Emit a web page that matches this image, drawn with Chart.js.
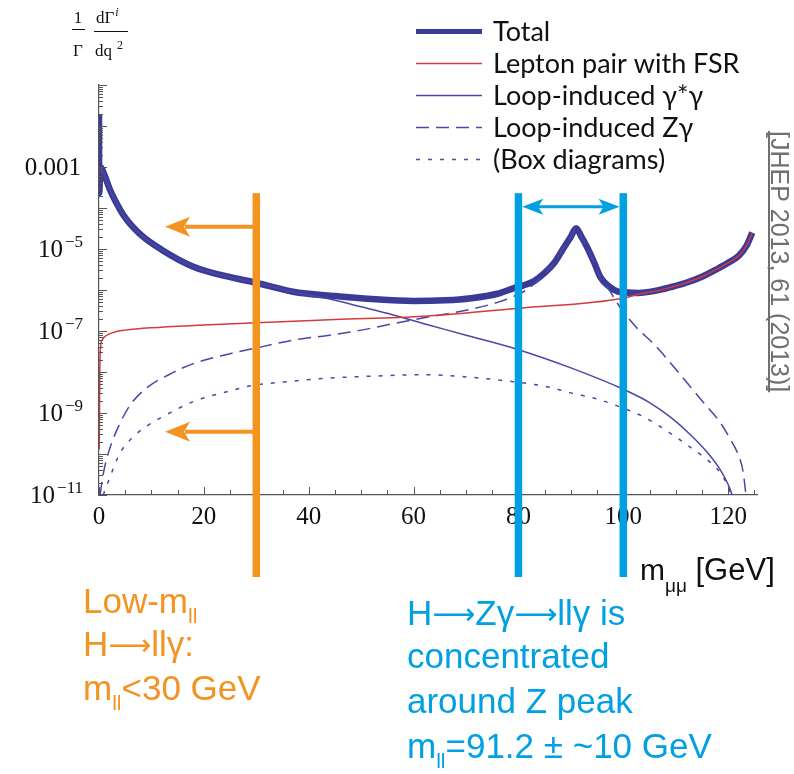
<!DOCTYPE html>
<html>
<head>
<meta charset="utf-8">
<title>dGamma/dq2 for H -> l l gamma</title>
<script src="https://cdn.jsdelivr.net/npm/chart.js"></script>
<style>
  body { margin: 0; background: #fff; }
  #box { width: 794px; height: 774px; }
</style>
</head>
<body>
<div id="box"><canvas id="myChart" width="794" height="774"></canvas></div>
<script>
// values: x = m_ll in GeV, y = 1/Gamma dGamma/dq^2 (log axis)
var totalX = [0, 0.03, 0.3, 1, 2, 3, 5, 8, 12, 18, 24, 30, 37, 45, 52, 60, 66, 71, 76, 79, 81, 83, 85, 87, 88.5, 90, 91, 92, 93.1, 94.5, 95.6, 97, 99.4, 103, 106, 109, 112, 115, 118, 120, 122, 123.5, 124.6];
var totalY = [1.9e-2, 2.3e-4, 1.0e-3, 6.6e-4, 3.0e-4, 1.6e-4, 5.8e-5, 2.2e-5, 9.5e-6, 3.7e-6, 2.2e-6, 1.5e-6, 9.1e-7, 7.1e-7, 6.0e-7, 5.4e-7, 5.6e-7, 6.3e-7, 8.1e-7, 1.1e-6, 1.3e-6, 1.65e-6, 2.6e-6, 4.9e-6, 1.0e-5, 2.0e-5, 3.2e-5, 2.0e-5, 1.1e-5, 4.5e-6, 2.1e-6, 1.3e-6, 8.9e-7, 8.5e-7, 9.5e-7, 1.17e-6, 1.5e-6, 2.1e-6, 3.3e-6, 4.6e-6, 6.8e-6, 1.2e-5, 2.5e-5];

var fsrX = [0.05, 0.15, 0.3, 0.6, 1, 2, 3, 5, 10, 20, 30, 45, 62, 80, 100, 103, 106, 109, 112, 115, 118, 120, 122, 123.5, 124.6];
var fsrY = [1.3e-10, 1.0e-8, 4.0e-8, 6.0e-8, 7.1e-8, 8.5e-8, 9.5e-8, 1.05e-7, 1.2e-7, 1.4e-7, 1.6e-7, 1.9e-7, 2.3e-7, 3.6e-7, 6.3e-7, 8.0e-7, 9.3e-7, 1.15e-6, 1.5e-6, 2.1e-6, 3.3e-6, 4.6e-6, 6.8e-6, 1.2e-5, 2.5e-5];

var ggX = [0.3, 1, 2, 3, 5, 8, 12, 18, 24, 30, 37, 44, 50, 56, 62, 70, 80, 90, 100, 105, 109, 113, 116, 118.5, 120, 120.8];
var ggY = [1.0e-3, 6.6e-4, 3.0e-4, 1.6e-4, 5.8e-5, 2.2e-5, 9.5e-6, 3.7e-6, 2.2e-6, 1.5e-6, 9.0e-7, 6.0e-7, 3.9e-7, 2.5e-7, 1.5e-7, 7.9e-8, 3.5e-8, 1.26e-8, 3.8e-9, 1.8e-9, 7.9e-10, 2.8e-10, 1.1e-10, 4.1e-11, 1.8e-11, 1.0e-11];

var zgX = [0.2, 0.8, 1.5, 2.5, 4, 6, 9, 14, 18, 25, 31, 37, 44, 50, 56, 62, 70, 76, 80, 82, 85, 87, 88.5, 90, 91, 92, 93.1, 94.5, 95.6, 97, 99, 100.8, 103, 105.7, 109, 112.2, 115, 118.5, 120.5, 121.8, 122.8, 123.4];
var zgY = [1.0e-11, 3.2e-11, 7.9e-11, 2.0e-10, 5.6e-10, 1.6e-9, 4.0e-9, 9.5e-9, 1.6e-8, 2.8e-8, 4.1e-8, 6.0e-8, 7.9e-8, 1.05e-7, 1.5e-7, 2.1e-7, 3.2e-7, 5.0e-7, 7.9e-7, 1.1e-6, 2.5e-6, 4.9e-6, 1.0e-5, 2.0e-5, 3.2e-5, 2.0e-5, 1.1e-5, 4.5e-6, 2.0e-6, 1.15e-6, 4.5e-7, 2.2e-7, 1.05e-7, 5.0e-8, 1.66e-8, 5.4e-9, 2.0e-9, 5.8e-10, 2.2e-10, 1.05e-10, 4.0e-11, 1.0e-11];

var boxX = [0.8, 2.1, 4, 6.5, 9, 12, 18, 24, 29, 37, 44, 53, 62, 70, 79, 85, 90, 95, 99.4, 104, 109, 113, 115.3, 118.5, 120, 120.6];
var boxY = [1.0e-11, 2.75e-11, 1.05e-10, 2.6e-10, 4.7e-10, 7.9e-10, 1.9e-9, 3.2e-9, 4.6e-9, 6.0e-9, 7.1e-9, 8.0e-9, 8.6e-9, 7.6e-9, 5.8e-9, 4.5e-9, 3.1e-9, 2.2e-9, 1.4e-9, 7.9e-10, 3.2e-10, 1.4e-10, 8.5e-11, 3.5e-11, 1.6e-11, 1.0e-11];

var seriesLabels = ['Total', 'Lepton pair with FSR', 'Loop-induced \u03b3*\u03b3', 'Loop-induced Z\u03b3', '(Box diagrams)'];

// tick labels
var xTicks = [0, 20, 40, 60, 80, 100, 120];
var yLabelValues = [1e-3, 1e-5, 1e-7, 1e-9, 1e-11];
var yLabelBase = ['0.001', '10', '10', '10', '10'];
var yLabelExp = ['', '\u22125', '\u22127', '\u22129', '\u221211'];

// annotation bars and arrows (data coordinates)
var zoneX = [30, 80, 100];
var zoneTop = 2.3e-4;
var zoneBottom = 1e-13;
var lowArrowY = [3.5e-5, 3.5e-10];
var lowArrowTip = 12.6;
var zArrowY = 1.07e-4;

var orange = '#f39322';
var cyan = '#00a0e2';
var thin = '#4848a6';
var SANS = '"Liberation Sans"';
var ARROW = '"DejaVu Sans"';

function pts(xs, ys) {
   return xs.map(function (x, i) { return { x: x, y: ys[i] }; });
}

// parts: [text, size, dy, family]
function richText(ctx, parts, x, y) {
   parts.forEach(function (p) {
      ctx.font = p[1] + 'px ' + (p[3] || SANS);
      ctx.fillText(p[0], x, y + (p[2] || 0));
      x += ctx.measureText(p[0]).width;
   });
}

function arrowHead(ctx, tx, ty, dir, len, half, notch) {
   ctx.beginPath();
   ctx.moveTo(tx, ty);
   ctx.lineTo(tx - dir * len, ty - half);
   ctx.lineTo(tx - dir * (len - notch), ty);
   ctx.lineTo(tx - dir * len, ty + half);
   ctx.closePath();
   ctx.fill();
}

var decor = {
   id: 'decor',
   afterDraw: function (chart) {
      var ctx = chart.ctx;
      var xs = chart.scales.x, ys = chart.scales.y, a = chart.chartArea;
      ctx.save();

      // inward tick marks
      ctx.strokeStyle = '#555';
      ctx.lineWidth = 1;
      ctx.beginPath();
      for (var e = -11; e <= -1; e++) {
         for (var m = 1; m <= 9; m++) {
            if (e === -1 && m > 1) break;
            var py = Math.round(ys.getPixelForValue(m * Math.pow(10, e))) + 0.5;
            ctx.moveTo(a.left, py);
            ctx.lineTo(a.left + (m === 1 ? 8 : 4), py);
         }
      }
      xs.ticks.forEach(function (t) {
         var px = Math.round(xs.getPixelForValue(t.value)) + 0.5;
         ctx.moveTo(px, a.bottom);
         ctx.lineTo(px, a.bottom - (xTicks.indexOf(t.value) >= 0 ? 8 : 5));
      });
      ctx.stroke();

      // y tick labels
      ctx.fillStyle = '#111';
      ctx.textAlign = 'right';
      ctx.textBaseline = 'alphabetic';
      yLabelValues.forEach(function (v, i) {
         var py = ys.getPixelForValue(v);
         if (yLabelExp[i] === '') {
            ctx.font = '25px "Liberation Serif"';
            ctx.fillText(yLabelBase[i], 81, py + 8);
         } else {
            ctx.font = '17px "Liberation Serif"';
            var ew = ctx.measureText(yLabelExp[i]).width;
            ctx.fillText(yLabelExp[i], 83, py - 2);
            ctx.font = '25px "Liberation Serif"';
            ctx.fillText(yLabelBase[i], 83 - ew - 2, py + 8);
         }
      });

      // y axis title  1/Γ dΓ^i/dq^2
      ctx.textAlign = 'center';
      ctx.font = '17px "Liberation Serif"';
      ctx.fillText('1', 78, 23);
      ctx.fillText('\u0393', 78, 56);
      ctx.fillRect(72, 29, 13, 1);
      ctx.textAlign = 'left';
      ctx.fillText('d\u0393', 96, 23);
      var w1 = ctx.measureText('d\u0393').width;
      ctx.fillText('dq', 95, 56);
      var w2 = ctx.measureText('dq').width;
      ctx.font = 'italic 12px "Liberation Serif"';
      ctx.fillText('i', 96 + w1 + 1, 16);
      ctx.font = '12px "Liberation Serif"';
      ctx.fillText('2', 95 + w2 + 5, 49);
      ctx.fillRect(94, 31, 34, 1);

      // legend
      ctx.textBaseline = 'middle';
      chart.data.datasets.forEach(function (ds, i) {
         var y = 31.5 + i * 32;
         ctx.strokeStyle = ds.borderColor;
         ctx.lineWidth = i === 0 ? 5 : ds.borderWidth;
         ctx.setLineDash(ds.borderDash || []);
         ctx.beginPath();
         ctx.moveTo(416, y);
         ctx.lineTo(482, y);
         ctx.stroke();
         ctx.setLineDash([]);
         ctx.fillStyle = '#111';
         ctx.font = '27px Lato';
         ctx.fillText(ds.label, 493, y + 1);
      });
      ctx.textBaseline = 'alphabetic';

      // mass window bars
      var top = ys.getPixelForValue(zoneTop), bot = ys.getPixelForValue(zoneBottom);
      zoneX.forEach(function (v, i) {
         ctx.fillStyle = i === 0 ? orange : cyan;
         ctx.fillRect(xs.getPixelForValue(v) - 3.75, top, 7.5, bot - top);
      });

      // arrows
      var ox = xs.getPixelForValue(zoneX[0]);
      var tip = xs.getPixelForValue(lowArrowTip);
      ctx.fillStyle = orange;
      ctx.strokeStyle = orange;
      ctx.lineWidth = 4;
      lowArrowY.forEach(function (v) {
         var py = ys.getPixelForValue(v);
         ctx.beginPath();
         ctx.moveTo(ox, py);
         ctx.lineTo(tip + 20, py);
         ctx.stroke();
         arrowHead(ctx, tip, py, -1, 25, 10, 6);
      });
      var zl = xs.getPixelForValue(zoneX[1]) + 3.75, zr = xs.getPixelForValue(zoneX[2]) - 3.75;
      var zy = ys.getPixelForValue(zArrowY);
      ctx.fillStyle = cyan;
      ctx.strokeStyle = cyan;
      ctx.lineWidth = 3;
      ctx.beginPath();
      ctx.moveTo(zl + 15, zy);
      ctx.lineTo(zr - 15, zy);
      ctx.stroke();
      arrowHead(ctx, zl, zy, -1, 21, 8, 5);
      arrowHead(ctx, zr, zy, 1, 21, 8, 5);

      // axis title
      ctx.fillStyle = '#111';
      richText(ctx, [['m', 30], ['\u03bc\u03bc', 19, 12], [' [GeV]', 31]], 640, 580);

      // annotations
      var arr = ['\u27f6', 30, -1, ARROW];
      ctx.fillStyle = orange;
      richText(ctx, [['Low-m', 35], ['ll', 21, 10]], 83, 613);
      richText(ctx, [['H', 35], arr, ['ll\u03b3:', 35]], 83, 656);
      richText(ctx, [['m', 35], ['ll', 21, 10], ['<30 GeV', 35]], 83, 700);
      ctx.fillStyle = cyan;
      richText(ctx, [['H', 35], arr, ['Z\u03b3', 35], arr, ['ll\u03b3 is', 35]], 407, 625);
      richText(ctx, [['concentrated', 35]], 407, 668);
      richText(ctx, [['around Z peak', 35]], 407, 713);
      richText(ctx, [['m', 35], ['ll', 21, 10], ['=91.2 \u00b1 ~10 GeV', 35]], 407, 758);

      // citation, rotated
      ctx.translate(771, 131);
      ctx.rotate(Math.PI / 2);
      ctx.fillStyle = '#707070';
      ctx.font = '25px ' + SANS;
      var cite = '[JHEP 2013, 61 (2013)]';
      ctx.fillText(cite, 0, 0);
      ctx.fillRect(0, 1, ctx.measureText(cite).width, 2);
      ctx.restore();
   }
};

var chart = new Chart(document.getElementById('myChart'), {
   type: 'line',
   data: {
      datasets: [
         { label: seriesLabels[0], data: pts(totalX, totalY), borderColor: '#3b3b97', borderWidth: 6.5, borderJoinStyle: 'round', order: 1 },
         { label: seriesLabels[1], data: pts(fsrX, fsrY), borderColor: '#d23a3c', borderWidth: 1.5, order: 0 },
         { label: seriesLabels[2], data: pts(ggX, ggY), borderColor: thin, borderWidth: 1.5, order: 0 },
         { label: seriesLabels[3], data: pts(zgX, zgY), borderColor: thin, borderWidth: 1.5, borderDash: [13, 7], order: 0 },
         { label: seriesLabels[4], data: pts(boxX, boxY), borderColor: thin, borderWidth: 1.5, borderDash: [4, 8], order: 0 }
      ]
   },
   options: {
      responsive: false,
      animation: false,
      layout: { padding: { left: 0, right: 37, top: 85, bottom: 239 } },
      elements: {
         point: { radius: 0 },
         line: { cubicInterpolationMode: 'monotone', fill: false }
      },
      plugins: { legend: { display: false }, tooltip: { enabled: false } },
      scales: {
         x: {
            type: 'linear', min: 0, max: 125.5,
            grid: { display: false, drawTicks: false },
            border: { color: '#555', width: 1.2 },
            ticks: {
               stepSize: 5, includeBounds: false, autoSkip: false, maxRotation: 0, padding: 7,
               color: '#111', font: { family: 'Liberation Serif', size: 25 },
               callback: function (v) { return xTicks.indexOf(v) >= 0 ? String(v) : ''; }
            },
            afterFit: function (s) { s.height = 40; }
         },
         y: {
            type: 'logarithmic', min: 1e-11, max: 1e-1,
            grid: { display: false, drawTicks: false },
            border: { color: '#555', width: 1.2 },
            ticks: { display: false },
            afterFit: function (s) { s.width = 99; }
         }
      }
   },
   plugins: [decor]
});
</script>
</body>
</html>
